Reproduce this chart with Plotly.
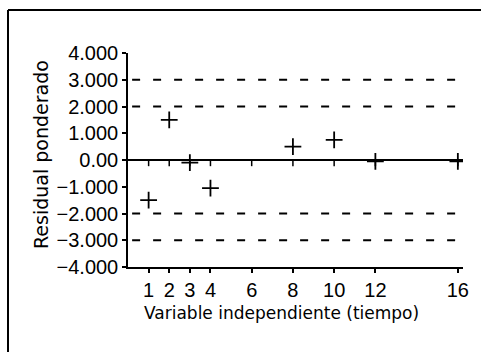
import plotly.graph_objects as go

# Data
tiempo = [1, 2, 3, 4, 8, 10, 12, 16]
residual = [-1.5, 1.5, -0.1, -1.05, 0.5, 0.75, -0.05, -0.05]
tick_x = [1, 2, 3, 4, 6, 8, 10, 12, 16]
tick_x_labels = ["1", "2", "3", "4", "6", "8", "10", "12", "16"]
y_ticks = [4, 3, 2, 1, 0, -1, -2, -3, -4]
y_tick_labels = ["4.000", "3.000", "2.000", "1.000", "0.00",
                 "\u22121.000", "\u22122.000", "\u22123.000", "\u22124.000"]
limit_levels = [3, 2, -2, -3]

W, H = 481, 352
L, R, T, B = 128, 18, 53, 85
pw, ph = W - L - R, H - T - B

FONT = "Liberation Sans"
TFONT = "DejaVu Sans"

fig = go.Figure()

# small ticks on the zero line
fig.add_trace(go.Scatter(
    x=tick_x, y=[-0.1] * len(tick_x), mode="markers",
    marker=dict(symbol="line-ns", size=5, line=dict(color="black", width=1.5)),
    hoverinfo="skip", showlegend=False))

# residual points
fig.add_trace(go.Scatter(
    x=tiempo, y=residual, mode="markers",
    marker=dict(symbol="cross-thin", size=12, line=dict(color="black", width=1.8)),
    showlegend=False))

shapes = []
for lv in limit_levels:
    shapes.append(dict(type="line", xref="x", yref="y", x0=0.2, x1=16.0, y0=lv, y1=lv,
                       line=dict(color="black", width=1.8, dash="8px,13px")))


def px_to_paper_x(px):
    return (px - L) / pw


def py_to_paper_y(py):
    return 1 - (py - T) / ph


# outer frame (left and top edges)
shapes.append(dict(type="line", xref="paper", yref="paper",
                   x0=px_to_paper_x(8), x1=px_to_paper_x(8),
                   y0=py_to_paper_y(10), y1=py_to_paper_y(360),
                   line=dict(color="black", width=2)))
shapes.append(dict(type="line", xref="paper", yref="paper",
                   x0=px_to_paper_x(8), x1=px_to_paper_x(490),
                   y0=py_to_paper_y(10), y1=py_to_paper_y(10),
                   line=dict(color="black", width=2)))

fig.update_layout(
    width=W, height=H,
    margin=dict(l=L, r=R, t=T, b=B, pad=0),
    paper_bgcolor="white", plot_bgcolor="white",
    shapes=shapes,
    font=dict(family=FONT, color="black", size=16),
    xaxis=dict(range=[0, 16.25], showgrid=False, zeroline=False,
               showline=True, linecolor="black", linewidth=1.5,
               tickmode="array", tickvals=tick_x, ticktext=tick_x_labels,
               ticks="outside", ticklen=4, tickwidth=1.5, tickcolor="black",
               tickfont=dict(size=20, family=FONT)),
    yaxis=dict(range=[-4, 4], showgrid=False,
               zeroline=True, zerolinecolor="black", zerolinewidth=1.5,
               showline=True, linecolor="black", linewidth=1.5,
               tickmode="array", tickvals=y_ticks, ticktext=y_tick_labels,
               ticks="outside", ticklen=4, tickwidth=1.5, tickcolor="black",
               tickfont=dict(size=20, family=FONT)),
    annotations=[
        dict(text="Variable independiente (tiempo)", xref="paper", yref="paper",
             x=px_to_paper_x(281), y=py_to_paper_y(313), showarrow=False,
             xanchor="center", yanchor="middle", font=dict(size=17, family=TFONT)),
        dict(text="Residual ponderado", xref="paper", yref="paper",
             x=px_to_paper_x(41), y=py_to_paper_y(155), showarrow=False,
             textangle=-90, xanchor="center", yanchor="middle",
             font=dict(size=19, family=TFONT)),
    ],
)

fig.write_html("out.html", config={"displayModeBar": False},
               post_script="document.body.style.margin='0';document.body.style.overflow='hidden';")
